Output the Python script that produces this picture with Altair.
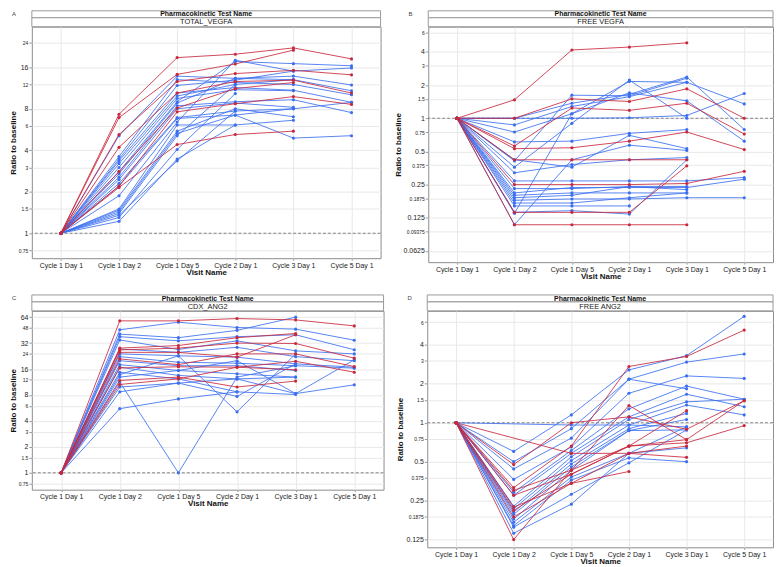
import altair as alt
import pandas as pd

VISITS = ["Cycle 1 Day 1", "Cycle 1 Day 2", "Cycle 1 Day 5",
          "Cycle 2 Day 1", "Cycle 3 Day 1", "Cycle 5 Day 1"]
BLUE = "#3b6ff0"
RED = "#c8283d"
FONT = "Liberation Sans"

# values at Cycle 1 Day 2, Cycle 1 Day 5, Cycle 2 Day 1, Cycle 3 Day 1, Cycle 5 Day 1 (baseline = 1)
A_RED = [
    [7.3, 18.8, 19.9, 22.1, 18.4],
    [6.9, 14.2, 16.9, 21.3, None],
    [5.2, 12.6, 14.4, 15.2, 14.1],
    [4.2, 10.4, 12.6, 12.9, 10.4],
    [2.8, 8.1, 11.2, 12.4, None],
    [2.2, 7.6, 8.7, 9.8, 8.6],
    [2.15, 4.4, 5.2, 5.5, None],
]
A_BLUE = [
    [5.1, 13.8, 13.3, 13.8, 11.9],
    [3.6, 13.0, 12.4, 12.0, 10.1],
    [3.45, 11.8, 12.9, 15.0, 15.8],
    [3.35, 10.4, 11.4, 10.9, 8.9],
    [3.2, 9.9, 12.0, 13.0, 10.8],
    [3.0, 9.5, 11.0, 10.8, None],
    [2.8, 9.0, 17.6, 17.0, 16.4],
    [2.7, 8.8, 13.3, 13.0, None],
    [2.55, 8.4, 9.0, 9.3, 7.5],
    [2.45, 8.0, 8.8, 8.2, None],
    [2.3, 6.9, 7.7, 8.0, 8.9],
    [2.2, 6.8, 7.2, 8.0, None],
    [1.87, 6.4, 18.0, 15.0, None],
    [1.5, 6.1, 6.1, 6.6, None],
    [1.47, 5.5, 8.0, 7.0, None],
    [1.43, 5.3, 7.2, 4.9, 5.1],
    [1.39, 5.1, 12.0, None, None],
    [1.3, 4.05, 10.3, None, None],
    [1.22, 3.45, 6.1, None, None],
    [1.35, 3.35, 7.7, None, None],
]
B_RED = [
    [1.47, 4.17, 4.43, 4.84, None],
    [1.0, 1.5, 1.42, 1.85, 1.0],
    [0.56, 1.24, 1.18, 1.37, 0.72],
    [0.53, 0.54, 0.62, 0.75, 0.52],
    [0.42, 0.42, 0.42, 0.42, None],
    [0.25, 0.25, 0.25, 0.256, 0.33],
    [0.14, 0.14, 0.14, 0.37, None],
    [0.108, 0.108, 0.108, 0.108, None],
]
B_BLUE = [
    [1.0, 1.0, 1.01, 1.06, 1.68],
    [1.0, 1.37, 1.65, 2.37, 0.79],
    [0.87, 1.28, 1.57, 2.12, 1.35],
    [0.75, 1.1, 1.7, 1.44, 0.62],
    [0.61, 0.62, 0.73, 0.79, None],
    [0.41, 1.62, 1.6, 2.31, None],
    [0.36, 0.9, 2.22, 1.0, None],
    [0.32, 0.38, 0.42, 0.44, None],
    [0.42, 0.36, 0.7, 0.53, None],
    [0.137, 1.1, 2.16, 2.12, None],
    [0.27, 0.27, 0.27, 0.27, 0.29],
    [0.21, 0.235, 0.235, 0.235, 0.28],
    [0.2, 0.21, 0.21, 0.21, None],
    [0.19, 0.2, 0.24, 0.225, None],
    [0.18, 0.185, 0.185, 0.19, 0.19],
    [0.16, 0.16, 0.16, None, None],
    [0.14, 0.145, 0.135, 0.42, None],
    [0.108, 0.42, 0.57, 0.51, None],
    [0.23, 0.23, 0.24, 0.24, None],
    [0.17, 0.17, 0.19, 0.21, None],
]
C_RED = [
    [58, 58, 61.7, 59.5, 50.7],
    [28, 30, 37, 41.4, None],
    [26.7, 28, 32, 31.7, 21.4],
    [25, 25, 22, 40, None],
    [21, 18, 24, 24, 17.1],
    [16.5, 17, 16.8, 19.7, 14.7],
    [11.8, 12.9, 9.9, 11.6, None],
    [10.6, 12.3, 16.8, 15.7, None],
]
C_BLUE = [
    [45.7, 56, 48.6, 46.5, 34.6],
    [40.7, 37, 45, 64, None],
    [38, 34, 38, 40, 26.8],
    [34.8, 27, 34, 26, 24],
    [27.3, 25, 28.6, 22.3, 20],
    [24, 22.8, 22, 18.4, 16.8],
    [22.3, 19.2, 18.7, 17.5, 16.4],
    [20, 17.5, 17.5, 15.4, None],
    [18, 15.4, 14.1, 12.9, None],
    [16.8, 13.5, 12.3, 8.3, 10.5],
    [14.7, 12.3, 8.7, 8.1, None],
    [11.3, 1.0, 12.9, 17.5, None],
    [13.8, 22.8, 5.1, 24, None],
    [5.55, 7.2, 8.7, None, None],
    [8.7, 11, 12.3, 12.9, None],
    [12.9, 15.4, 20, 8.3, 20.5],
    [9.9, 11, 7.7, 18.4, None],
]
D_RED = [
    [0.475, 1.0, 1.11, 0.89, 1.48],
    [0.315, 0.66, 2.72, 3.25, 5.2],
    [None, 0.58, 0.58, 0.54, None],
    [0.30, 0.43, 1.36, 0.74, None],
    [0.275, 0.40, 0.66, 0.70, 0.95],
    [0.223, 0.34, 0.42, None, None],
    [0.21, 0.40, 0.66, 1.24, None],
    [0.187, 0.34, 0.58, 0.66, None],
    [0.125, 0.43, 0.66, 0.74, 1.48],
]
D_BLUE = [
    [None, 0.96, 0.96, 0.93, None],
    [0.60, 1.15, 2.56, 3.3, 6.64],
    [0.50, 0.9, 2.17, 2.94, 3.4],
    [0.44, 0.76, 2.17, 1.83, None],
    [0.365, 0.65, 1.69, 2.3, 2.2],
    [0.29, 0.61, 1.28, 1.92, 1.52],
    [0.275, 0.58, 1.11, 1.66, 1.33],
    [0.226, 0.545, 1.06, 1.45, 1.52],
    [0.216, 0.51, 0.96, 1.37, 1.15],
    [0.204, 0.48, 0.9, 1.18, None],
    [0.196, 0.455, 0.87, 1.06, None],
    [0.18, 0.43, 0.87, 0.88, None],
    [0.17, 0.38, 0.58, 0.64, None],
    [0.16, 0.36, 0.535, 0.5, None],
    [0.156, 0.28, 0.49, 0.88, None],
    [0.14, 0.235, 0.58, 0.93, None],
]

A_TICKS = [0.75, 1, 1.5, 2, 3, 4, 6, 8, 12, 16, 24]
B_TICKS = [0.0625, 0.09375, 0.125, 0.1875, 0.25, 0.375, 0.5, 0.75, 1, 1.5, 2, 3, 4, 6]
C_TICKS = [0.75, 1, 1.5, 2, 3, 4, 6, 8, 12, 16, 24, 32, 48, 64]
D_TICKS = [0.125, 0.1875, 0.25, 0.375, 0.5, 0.75, 1, 1.5, 2, 3, 4, 6]


def frame(red, blue):
    rows = []
    for grp, series in (("blue", blue), ("red", red)):
        for i, s in enumerate(series):
            for visit, val in zip(VISITS, [1.0] + list(s)):
                if val is not None:
                    rows.append({"sid": f"{grp}{i}", "grp": grp,
                                 "visit": visit, "ratio": val})
    return pd.DataFrame(rows)


POW2 = "abs(log(datum.value)/log(2) - round(log(datum.value)/log(2))) < 0.001"


def panel(letter, name, df, domain, ticks, w, h):
    x = alt.X("visit:N", sort=VISITS,
              scale=alt.Scale(type="point", padding=0.5),
              axis=alt.Axis(title="Visit Name", labelAngle=0, labelFontSize=7,
                            labelColor="#222", labelPadding=1, tickSize=2,
                            titleFontSize=8, titleFontWeight="bold",
                            titlePadding=0, titleColor="#111",
                            grid=True, gridColor="#e8e8e8", domain=False,
                            tickColor="#999", labelFont=FONT, titleFont=FONT))
    y = alt.Y("ratio:Q",
              scale=alt.Scale(type="log", base=2, domain=domain, nice=False,
                              zero=False),
              axis=alt.Axis(title="Ratio to baseline", values=ticks,
                            labelExpr="'' + datum.value",
                            labelFontSize={"condition": {"test": POW2, "value": 7},
                                           "value": 5},
                            labelColor="#222", labelPadding=1, tickSize=3,
                            titleFontSize=8, titleFontWeight="bold",
                            titlePadding=1, titleColor="#111",
                            grid=True, gridColor="#e8e8e8", domain=False,
                            tickColor="#999", labelFont=FONT, titleFont=FONT))
    base = alt.Chart(df).encode(x=x, y=y, detail="sid:N")
    layers = []
    for grp, col in (("blue", BLUE), ("red", RED)):
        sub = base.transform_filter(f"datum.grp == '{grp}'")
        layers.append(sub.mark_line(color=col, strokeWidth=1, opacity=0.85))
        layers.append(sub.mark_point(filled=True, size=10, color=col, opacity=1))
    one = pd.DataFrame({"k": [0]})
    rule = alt.Chart(one).mark_rule(color="#666", strokeDash=[3, 2],
                                    strokeWidth=0.8).encode(y=alt.datum(1))
    hdr = alt.Chart(one)
    box1 = hdr.mark_rect(fill="white", stroke="#999", strokeWidth=1).encode(
        x=alt.value(0), x2=alt.value(w), y=alt.value(-16), y2=alt.value(-9))
    box2 = hdr.mark_rect(fill="white", stroke="#999", strokeWidth=1).encode(
        x=alt.value(0), x2=alt.value(w), y=alt.value(-9), y2=alt.value(0))
    t1 = hdr.mark_text(font=FONT, fontSize=7, fontWeight="bold", color="#111",
                       baseline="middle").encode(
        x=alt.value(w / 2), y=alt.value(-12.3),
        text=alt.value("Pharmacokinetic Test Name"))
    t2 = hdr.mark_text(font=FONT, fontSize=7.5, color="#222",
                       baseline="middle").encode(
        x=alt.value(w / 2), y=alt.value(-4.3), text=alt.value(name))
    lab = hdr.mark_text(font=FONT, fontSize=6, color="#444", align="left",
                        baseline="middle").encode(
        x=alt.value(-20), y=alt.value(-13), text=alt.value(letter))
    return alt.layer(rule, *layers, box1, box2, t1, t2, lab).properties(
        width=w, height=h)


pA = panel("A", "TOTAL_VEGFA", frame(A_RED, A_BLUE), [0.659, 31.5], A_TICKS, 351, 233)
pB = panel("B", "FREE VEGFA", frame(B_RED, B_BLUE), [0.0494, 6.78], B_TICKS, 347, 237)
pC = panel("C", "CDX_ANG2", frame(C_RED, C_BLUE), [0.637, 75.8], C_TICKS, 354, 180)
pD = panel("D", "FREE ANG2", frame(D_RED, D_BLUE), [0.109, 7.32], D_TICKS, 348, 238)

top = alt.hconcat(pA, pB, spacing=12)
bottom = alt.hconcat(pC, pD, spacing=11)
chart = alt.vconcat(top, bottom, spacing=13).properties(
    padding={"left": 0, "top": 0, "right": 0, "bottom": 0}
).configure_view(stroke="#8c8c8c", strokeWidth=1)

chart.save("out.html", embed_options={"renderer": "svg", "actions": False})
